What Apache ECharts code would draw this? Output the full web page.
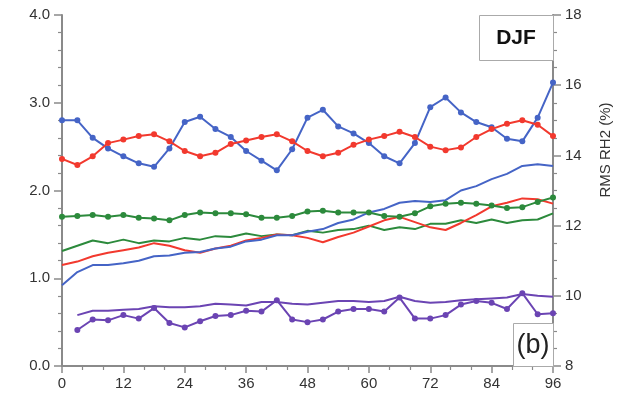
<!DOCTYPE html>
<html>
<head>
<meta charset="utf-8">
<script src="https://cdn.jsdelivr.net/npm/echarts@6/dist/echarts.min.js"></script>
<style>
html,body{margin:0;padding:0;background:#fff;}
#chart{width:630px;height:403px;}
</style>
</head>
<body>
<div id="chart"></div>
<script>
const hours = [0,3,6,9,12,15,18,21,24,27,30,33,36,39,42,45,48,51,54,57,60,63,66,69,72,75,78,81,84,87,90,93,96];
const xTicks = [0,12,24,36,48,60,72,84,96];
const leftTicks = ['0.0','1.0','2.0','3.0','4.0'];
const rightTicks = [8,10,12,14,16,18];

const blueDot = [2.80,2.80,2.60,2.48,2.39,2.31,2.27,2.48,2.78,2.84,2.70,2.61,2.45,2.34,2.23,2.47,2.83,
  2.92,2.73,2.65,2.54,2.39,2.31,2.54,2.95,3.06,2.89,2.78,2.72,2.59,2.56,2.83,3.23];
const redDot = [2.36,2.29,2.39,2.54,2.58,2.62,2.64,2.56,2.45,2.39,2.43,2.53,2.57,2.61,2.64,2.56,2.45,
  2.39,2.43,2.52,2.58,2.62,2.67,2.61,2.50,2.46,2.49,2.61,2.70,2.76,2.80,2.75,2.62];
const greenDot = [1.70,1.71,1.72,1.70,1.72,1.69,1.68,1.66,1.72,1.75,1.74,1.74,1.73,1.69,1.69,1.71,1.76,
  1.77,1.75,1.75,1.75,1.71,1.70,1.74,1.82,1.85,1.86,1.85,1.83,1.80,1.81,1.87,1.92];
const greenLine = [1.31,1.37,1.43,1.40,1.44,1.40,1.43,1.42,1.46,1.44,1.48,1.47,1.51,1.48,1.50,1.49,1.54,
  1.52,1.55,1.56,1.60,1.55,1.58,1.56,1.62,1.62,1.66,1.63,1.67,1.63,1.66,1.67,1.74];
const redLine = [1.15,1.19,1.25,1.29,1.32,1.35,1.40,1.37,1.32,1.29,1.34,1.37,1.43,1.46,1.50,1.49,1.46,
  1.41,1.47,1.52,1.59,1.66,1.70,1.64,1.58,1.55,1.63,1.72,1.82,1.86,1.91,1.90,1.85];
const blueLine = [0.92,1.07,1.15,1.15,1.17,1.20,1.25,1.26,1.29,1.30,1.34,1.36,1.42,1.44,1.49,1.49,1.53,
  1.56,1.63,1.67,1.75,1.79,1.86,1.88,1.87,1.89,2.00,2.05,2.13,2.19,2.28,2.30,2.28];
const purpleDot = [null,0.41,0.53,0.52,0.58,0.54,0.66,0.49,0.44,0.51,0.57,0.58,0.63,0.62,0.75,0.53,0.50,
  0.53,0.62,0.65,0.65,0.62,0.78,0.54,0.54,0.58,0.70,0.74,0.72,0.65,0.83,0.59,0.60];
const purpleLine = [null,0.58,0.63,0.63,0.64,0.65,0.68,0.67,0.67,0.68,0.71,0.70,0.69,0.73,0.73,0.71,0.70,
  0.72,0.74,0.74,0.73,0.74,0.79,0.74,0.72,0.73,0.75,0.76,0.77,0.78,0.82,0.80,0.79];

const panelTitle = 'DJF';
const panelLabel = '(b)';
const rightName = 'RMS RH2 (%)';

const BLUE = '#4564c6', RED = '#f2392e', GREEN = '#2c8a3c', PURPLE = '#6b44b3';
const AXIS = '#8a8a8a';

function pairs(arr){ return hours.map((h,i)=>[h, arr[i]]).filter(p=>p[1]!==null); }
function lineSeries(arr, color, dots, z){
  return {
    type:'line', data:pairs(arr), xAxisIndex:0, yAxisIndex:0,
    showSymbol:dots, symbol:'circle', symbolSize:dots?6:0,
    lineStyle:{color:color, width:2}, itemStyle:{color:color},
    animation:false, silent:true, z:z
  };
}

const chart = echarts.init(document.getElementById('chart'), null, {renderer:'canvas'});
const font = '"Liberation Sans", Arial, Helvetica, sans-serif';
chart.setOption({
  backgroundColor:'#fff',
  animation:false,
  grid:{left:62, right:77, top:15, bottom:37, containLabel:false},
  xAxis:[{
    type:'value', min:0, max:96, interval:12, position:'bottom',
    axisLine:{show:true, onZero:false, lineStyle:{color:AXIS, width:2}},
    axisTick:{show:true, inside:false, length:7, lineStyle:{color:AXIS, width:1.5}},
    minorTick:{show:true, splitNumber:3, length:4, lineStyle:{color:AXIS, width:1.2}},
    splitLine:{show:false},
    axisLabel:{color:'#333', fontSize:15, fontFamily:font, margin:10,
      formatter:v=>xTicks.includes(v)?String(v):''}
  },{
    type:'value', min:0, max:96, position:'top',
    axisLine:{show:true, lineStyle:{color:AXIS, width:2}},
    axisTick:{show:false}, axisLabel:{show:false}, splitLine:{show:false}
  }],
  yAxis:[{
    type:'value', min:0, max:4, interval:1, position:'left',
    axisLine:{show:true, onZero:false, lineStyle:{color:AXIS, width:2}},
    axisTick:{show:true, inside:false, length:8, lineStyle:{color:AXIS, width:1.5}},
    minorTick:{show:true, splitNumber:5, length:4, lineStyle:{color:AXIS, width:1.2}},
    splitLine:{show:false},
    axisLabel:{color:'#333', fontSize:15, fontFamily:font, margin:12,
      formatter:v=>leftTicks[Math.round(v)]}
  },{
    type:'value', min:8, max:18, interval:2, position:'right',
    axisLine:{show:true, onZero:false, lineStyle:{color:AXIS, width:2}},
    axisTick:{show:true, inside:false, length:8, lineStyle:{color:AXIS, width:1.5}},
    minorTick:{show:true, splitNumber:4, length:4, lineStyle:{color:AXIS, width:1.2}},
    splitLine:{show:false},
    axisLabel:{color:'#333', fontSize:15, fontFamily:font, margin:12,
      formatter:v=>rightTicks.includes(v)?String(v):''}
  }],
  series:[
    lineSeries(purpleLine, PURPLE, false, 2),
    lineSeries(purpleDot, PURPLE, true, 3),
    lineSeries(greenLine, GREEN, false, 2),
    lineSeries(redLine, RED, false, 2),
    lineSeries(blueLine, BLUE, false, 2),
    lineSeries(greenDot, GREEN, true, 3),
    lineSeries(blueDot, BLUE, true, 3),
    lineSeries(redDot, RED, true, 4)
  ],
  graphic:[
    {type:'rect', left:479, top:15, shape:{width:74, height:45},
      style:{fill:'#fff', stroke:'#aaa', lineWidth:1}, z:10},
    {type:'text', x:516, y:38, style:{text:panelTitle, fill:'#111', font:'bold 21px '+font,
      align:'center', verticalAlign:'middle'}, z:11},
    {type:'rect', left:513, top:323, shape:{width:40, height:43},
      style:{fill:'#fff', stroke:'#aaa', lineWidth:1}, z:10},
    {type:'text', x:533, y:346, style:{text:panelLabel, fill:'#222', font:'27px '+font,
      align:'center', verticalAlign:'middle'}, z:11},
    {type:'text', x:606, y:150, rotation:Math.PI/2, style:{text:rightName, fill:'#333',
      font:'15px '+font, align:'center', verticalAlign:'middle'}, z:11}
  ]
});
</script>
</body>
</html>
